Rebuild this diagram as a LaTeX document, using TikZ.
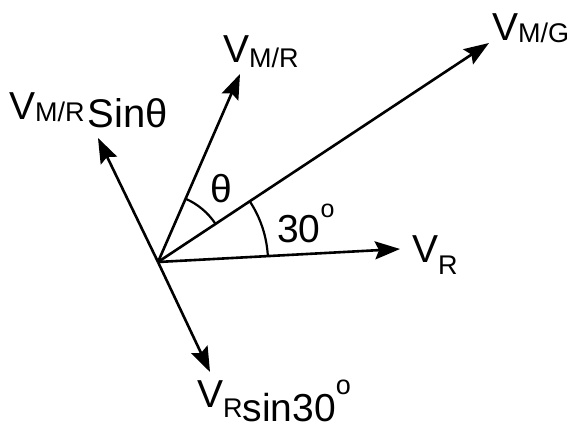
\documentclass[tikz,border=0pt]{standalone}
\usepackage{fontspec}
\setmainfont{Liberation Sans}
\usetikzlibrary{arrows.meta}
\newcommand\bigtx[1]{{\fontsize{39}{39}\selectfont #1}}
\newcommand\smtx[1]{{\fontsize{27}{27}\selectfont #1}}
\begin{document}
\begin{tikzpicture}[x=1pt,y=1pt,
  vec/.style={line width=2.6pt,-{Stealth[length=25pt,width=18pt,inset=4pt]}},
  anglearc/.style={line width=2.2pt},
  lbl/.style={anchor=base west,inner sep=0pt,font=\fontsize{39}{39}\selectfont}]
\useasboundingbox (0,0) rectangle (573,430);
\coordinate (O) at (158,168);
\coordinate (tMG) at (489,387);
\coordinate (tMR) at (240,356);
\coordinate (tMRS) at (98,292);
\coordinate (tR) at (400,181);
\coordinate (tRS) at (210,58);
\draw[vec] (O) -- (tMG);
\draw[vec] (O) -- (tMR);
\draw[vec] (O) -- (tMRS);
\draw[vec] (O) -- (tR);
\draw[vec] (O) -- (tRS);
\draw[anglearc] (O) ++(33.49:69) arc[start angle=33.49,end angle=66.44,radius=69];
\draw[anglearc] (O) ++(3.07:110) arc[start angle=3.07,end angle=33.49,radius=110];
\node[lbl] (lMG) at (492,389) {V\raisebox{-2pt}{\smtx{M/G}}};
\node[lbl] (lMR) at (223,367) {V\raisebox{-5pt}{\smtx{M/R}}};
\node[lbl] (lMRS) at (9,310) {V\raisebox{-2pt}{\smtx{M/R}}\hspace{3pt}\raisebox{-8pt}{\fontsize{40}{40}\selectfont Sinθ}};
\node[lbl] (lR) at (412,167) {V\raisebox{-12pt}{\smtx{R}}};
\node[lbl] (lRS) at (197,22) {V\raisebox{-10pt}{\smtx{R}}\raisebox{-14pt}{sin30}\raisebox{13pt}{\smtx{o}}};
\node[lbl] (l30) at (277,187) {30\raisebox{25pt}{\fontsize{25}{25}\selectfont o}};
\node[lbl] (lth) at (210,227) {θ};
\end{tikzpicture}
\end{document}
